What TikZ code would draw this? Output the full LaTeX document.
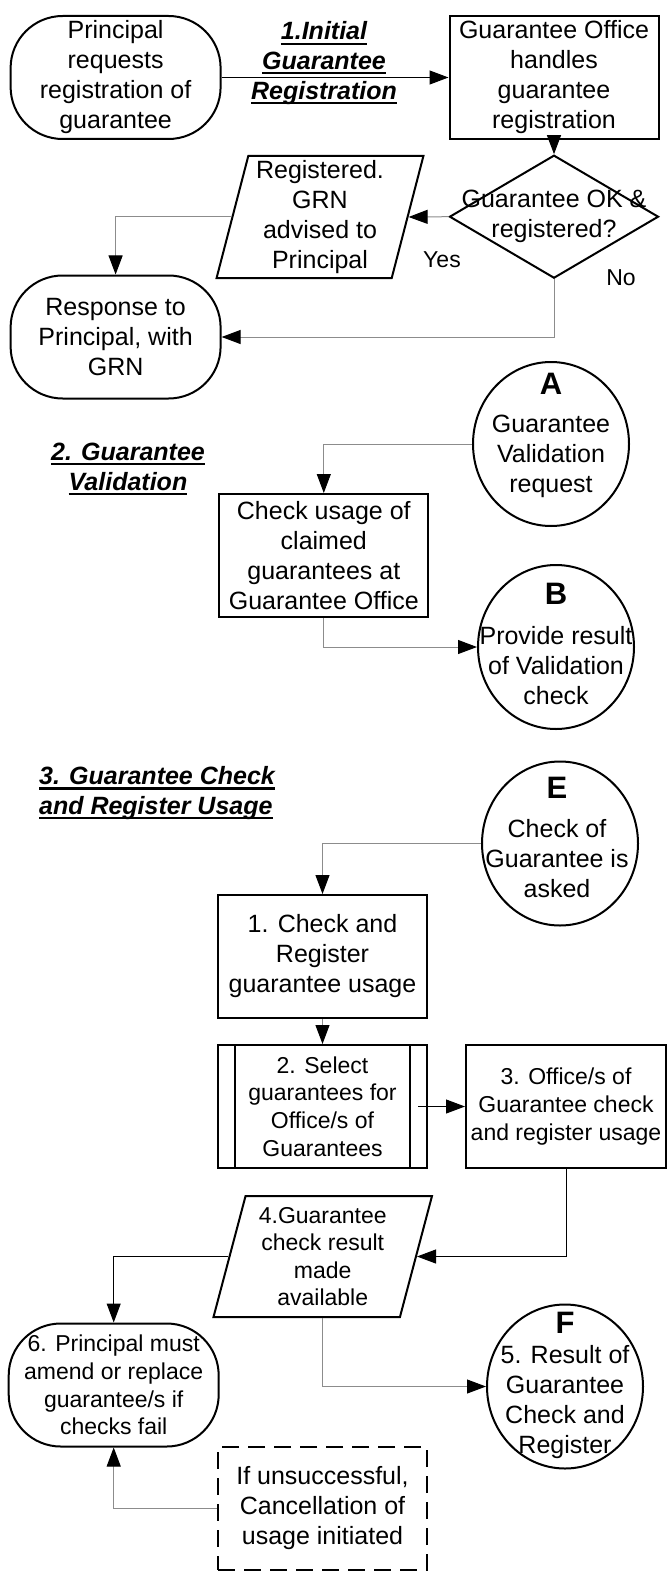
\documentclass[tikz,border=0pt]{standalone}
\usepackage{fontspec}
\setmainfont{Liberation Sans}
\usetikzlibrary{shapes.geometric,arrows.meta}

\newsavebox{\undlbox}
\newcommand{\undl}[1]{\sbox{\undlbox}{#1}\rlap{\rule[-2.5pt]{\wd\undlbox}{1.1pt}}\usebox{\undlbox}}
\newcommand{\bigltr}[1]{{\fontsize{15.5}{15.5}\selectfont\bfseries #1}}

\tikzstyle{box} = [draw, line width=1pt, minimum width=104.5pt, minimum height=61.5pt, inner sep=0pt, align=center]
\tikzstyle{term} = [box, rounded corners=26pt, minimum width=105pt]
\tikzstyle{subbox} = [box, path picture={
  \draw [line width=1pt] ([xshift=8.5pt]path picture bounding box.north west) -- ([xshift=8.5pt]path picture bounding box.south west);
  \draw [line width=1pt] ([xshift=-8.5pt]path picture bounding box.north east) -- ([xshift=-8.5pt]path picture bounding box.south east);}]
\tikzstyle{io} = [trapezium, trapezium left angle=76, trapezium right angle=104, trapezium stretches=true, draw, line width=1pt, inner sep=0pt, align=center, minimum width=104pt, minimum height=61pt]
\tikzstyle{dec} = [diamond, draw, line width=1pt, inner sep=0pt, minimum width=104.5pt, minimum height=61.5pt]
\tikzstyle{circ} = [ellipse, draw, line width=1pt, inner sep=0pt, minimum width=78pt, minimum height=82pt]
\tikzstyle{txt} = [align=center, inner sep=0pt]
\tikzstyle{smtxt} = [font=\fontsize{11.5}{13.8}\selectfont]
\tikzstyle{heading} = [align=center, inner sep=0pt, font=\fontsize{12.5}{14.8}\selectfont\bfseries\itshape]
\tikzstyle{conn} = [draw=black, line width=0.5pt, -{Triangle[length=9.5pt,width=7pt,color=black]}]
\tikzstyle{lconn} = [conn, draw=black!45]

\begin{document}
\begin{tikzpicture}[x=0.5pt, y=-0.5pt, font=\fontsize{12.5}{15}\selectfont]
  \useasboundingbox (0,0) rectangle (668,1573);

  % 1. initial registration
  \node (a) at (115.6,77.5) [term] {Principal\\requests\\registration of\\guarantee};
  \node (b) at (324,63) [heading] {\undl{1.Initial}\\\undl{Guarantee}\\\undl{Registration}};
  \node (c) at (554,77.5) [box] {Guarantee Office\\handles\\guarantee\\registration};
  \node (d) at (554,216.7) [dec] {};
  \node (d1) at (554,216.5) [txt] {Guarantee OK \&\\registered?};
  \node (e) at (320,217) [io] {Registered.\\GRN\\advised to\\Principal};
  \node (f) at (115.6,337) [term] {Response to\\Principal, with\\GRN};
  \node (yes) at (442,260) [smtxt] {Yes};
  \node (no) at (621,278) [smtxt] {No};

  \draw [conn] (a) -- (c);
  \draw [conn] (c) -- (d);
  \draw [lconn] (d.west) -- (e.east);
  \draw [lconn] (e.west) -| (f.north);
  \draw [lconn] (d.south) |- (f.east);

  % 2. validation
  \node (g) at (128,469) [heading] {\undl{2. Guarantee}\\\undl{Validation}};
  \node (h) at (551,444) [circ] {};
  \node (h1) at (551,435) [txt] {\bigltr{A}\\[4pt]Guarantee\\Validation\\request};
  \node (i) at (323.8,555.5) [box] {Check usage of\\claimed\\guarantees at\\Guarantee Office};
  \node (j) at (556,647) [circ] {};
  \node (j1) at (556,644) [txt] {\bigltr{B}\\[5pt]Provide result\\of Validation\\check};

  \draw [lconn] (h.west) -| (i.north);
  \draw [lconn] (i.south) |- (j.west);

  % 3. check and register usage
  \node (k) at (157,793) [heading, align=left] {\undl{3. Guarantee Check}\\\undl{and Register Usage}};
  \node (l) at (560,843.5) [circ] {};
  \node (l1) at (557,837) [txt] {\bigltr{E}\\[4.5pt]Check of\\Guarantee is\\asked};
  \node (m) at (322.5,956.5) [box] {1. Check and\\Register\\guarantee usage};
  \node (n) at (322.5,1106.5) [subbox, smtxt] {2. Select\\guarantees for\\Office/s of\\Guarantees};
  \node (o) at (566,1106.5) [box, smtxt, minimum width=100pt] {3. Office/s of\\Guarantee check\\and register usage};
  \node (p) at (322.75,1256.5) [io, smtxt, minimum width=109.75pt, minimum height=60.5pt, trapezium left angle=75, trapezium right angle=105] {4.Guarantee\\check result\\made\\available};
  \node (q) at (113.7,1385) [term, smtxt] {6. Principal must\\amend or replace\\guarantee/s if\\checks fail};
  \node (r) at (565,1386.5) [circ] {};
  \node (r1) at (565,1385) [txt] {\bigltr{F}\\5. Result of\\Guarantee\\Check and\\Register};
  \node (s) at (322.5,1508.5) [box, dash pattern=on 8.5pt off 4.5pt] {If unsuccessful,\\Cancellation of\\usage initiated};

  \draw [lconn] (l.west) -| (m.north);
  \draw [lconn] (m) -- (n);
  \draw [conn] ([xshift=-5pt]n.east) -- (o.west);
  \draw [conn] (o.south) |- (p.east);
  \draw [conn] (p.west) -| (q.north);
  \draw [lconn] (p.south) |- (r.west);
  \draw [lconn] (s.west) -| (q.south);
\end{tikzpicture}
\end{document}
